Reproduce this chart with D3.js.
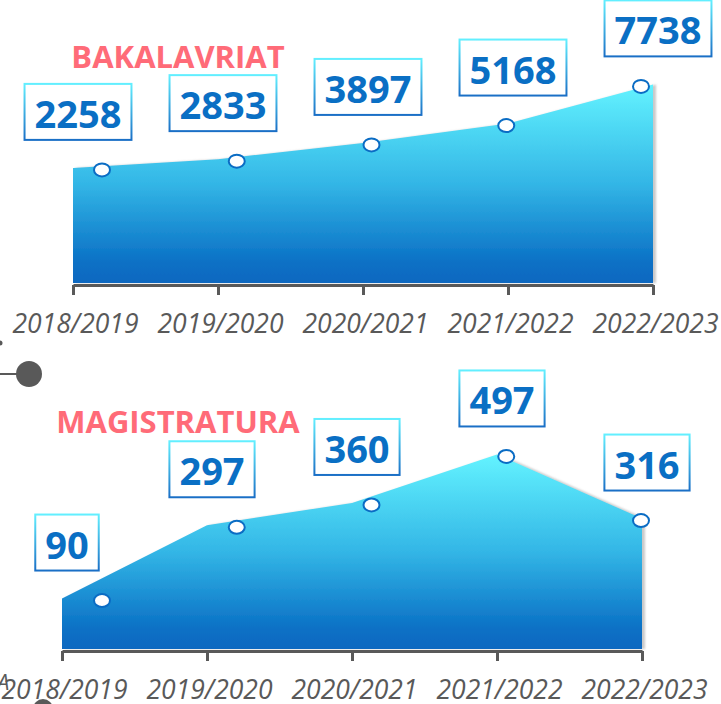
<!DOCTYPE html>
<html lang="en">
<meta charset="utf-8"/>
<head>
<script src="https://d3js.org/d3.v7.min.js"></script>
</head>
<style>
  body { margin:0; background:#fff; }
  .axis path, .axis line { stroke:#595959; stroke-width:3; fill:none; }
  .axis text { font-family:"Open Sans", sans-serif; font-style:italic; font-size:26.5px; fill:#595959; }
  .title { font-family:"Open Sans", sans-serif; font-weight:bold; font-size:31px; fill:#ff6b78; }
  .val { font-family:"Open Sans", sans-serif; font-weight:bold; font-size:38px; fill:#0a6fc4; }
</style>
<body>
<script>
// data
var years = ["2018/2019","2019/2020","2020/2021","2021/2022","2022/2023"];
var bakalavriat = [2258, 2833, 3897, 5168, 7738];
var magistratura = [90, 297, 360, 497, 316];

var width = 721, height = 704;

var svg = d3.select("body").append("svg")
    .attr("width", width)
    .attr("height", height);

var defs = svg.append("defs");

var areaGrad = defs.append("linearGradient")
    .attr("id", "areaGrad")
    .attr("x1", 0).attr("y1", 0).attr("x2", 0).attr("y2", 1);
areaGrad.append("stop").attr("offset", "0%").attr("stop-color", "#63f3ff");
areaGrad.append("stop").attr("offset", "50%").attr("stop-color", "#33b6e6");
areaGrad.append("stop").attr("offset", "90%").attr("stop-color", "#0a70c5");
areaGrad.append("stop").attr("offset", "100%").attr("stop-color", "#0868c0");

var boxGrad = defs.append("linearGradient")
    .attr("id", "boxGrad")
    .attr("x1", 0).attr("y1", 0).attr("x2", 0).attr("y2", 1);
boxGrad.append("stop").attr("offset", "0%").attr("stop-color", "#62efff");
boxGrad.append("stop").attr("offset", "100%").attr("stop-color", "#1a6fc6");

defs.append("filter")
    .attr("id", "shadow")
    .attr("x", "-5%").attr("y", "-5%").attr("width", "110%").attr("height", "110%")
  .append("feDropShadow")
    .attr("dx", 3).attr("dy", 0).attr("stdDeviation", 1)
    .attr("flood-color", "#888").attr("flood-opacity", 0.45);

// leftover bits of the surrounding slide
svg.append("line")
    .attr("x1", 0).attr("x2", 18).attr("y1", 374).attr("y2", 374)
    .attr("stroke", "#595959").attr("stroke-width", 2);
svg.append("circle").attr("cx", 29).attr("cy", 374).attr("r", 13).attr("fill", "#595959");
svg.append("circle").attr("cx", 43).attr("cy", 709).attr("r", 10).attr("fill", "#595959");
svg.append("circle").attr("cx", 0).attr("cy", 343).attr("r", 2.5).attr("fill", "#595959");
svg.append("text")
    .attr("x", -3).attr("y", 690)
    .attr("font-family", "Open Sans, sans-serif").attr("font-style", "italic")
    .attr("font-size", 22).attr("fill", "#595959")
    .text("A");

function drawChart(values, title, opt) {
  var g = svg.append("g");

  var x = d3.scalePoint().domain(years).range(opt.xRange);
  var xm = d3.scalePoint().domain(years).range([102, 641]);
  var y = d3.scaleLinear().domain(opt.yDomain).range(opt.yRange);

  var area = d3.area()
      .x(function(d, i) { return x(years[i]); })
      .y0(opt.base - 2)
      .y1(function(d) { return y(d); });

  g.append("path")
      .datum(values)
      .attr("d", area)
      .attr("fill", "url(#areaGrad)")
      .attr("filter", "url(#shadow)");

  g.append("g")
      .attr("class", "axis")
      .attr("transform", "translate(0," + opt.base + ")")
      .call(d3.axisBottom(x).tickSize(10).tickSizeOuter(0).tickPadding(19))
      .call(function(a) { a.selectAll("text").attr("dx", 2); });

  g.append("text")
      .attr("class", "title")
      .attr("x", 178).attr("y", opt.titleY)
      .attr("text-anchor", "middle")
      .text(title);

  g.selectAll(".marker")
      .data(values).enter()
      .append("ellipse")
      .attr("class", "marker")
      .attr("cx", function(d, i) { return xm(years[i]); })
      .attr("cy", function(d) { return y(d) + 2; })
      .attr("rx", 8).attr("ry", 6.5)
      .attr("fill", "#fff")
      .attr("stroke", "#0a6cc4")
      .attr("stroke-width", 2);

  var lab = g.selectAll(".lab")
      .data(values).enter()
      .append("g")
      .attr("class", "lab");

  lab.append("rect");
  lab.append("text")
      .attr("class", "val")
      .attr("text-anchor", "middle")
      .attr("x", function(d, i) { return x(years[i]) + 5; })
      .attr("y", function(d) { return y(d) - 40; })
      .text(function(d) { return d; });

  lab.each(function(d, i) {
    var w = d3.select(this).select("text").node().getComputedTextLength() + 20;
    d3.select(this).select("rect")
        .attr("x", x(years[i]) + 5 - w / 2)
        .attr("y", y(d) - 84)
        .attr("width", w)
        .attr("height", 56)
        .attr("fill", "#fff")
        .attr("stroke", "url(#boxGrad)")
        .attr("stroke-width", 2);
  });
}

drawChart(bakalavriat, "BAKALAVRIAT", {
  xRange: [73, 653], base: 285, titleY: 68,
  yDomain: [0, 8000], yRange: [202.3, 80.4]
});

drawChart(magistratura, "MAGISTRATURA", {
  xRange: [62, 642], base: 651, titleY: 433,
  yDomain: [0, 500], yRange: [630.4, 453.4]
});
</script>
</body>
</html>
